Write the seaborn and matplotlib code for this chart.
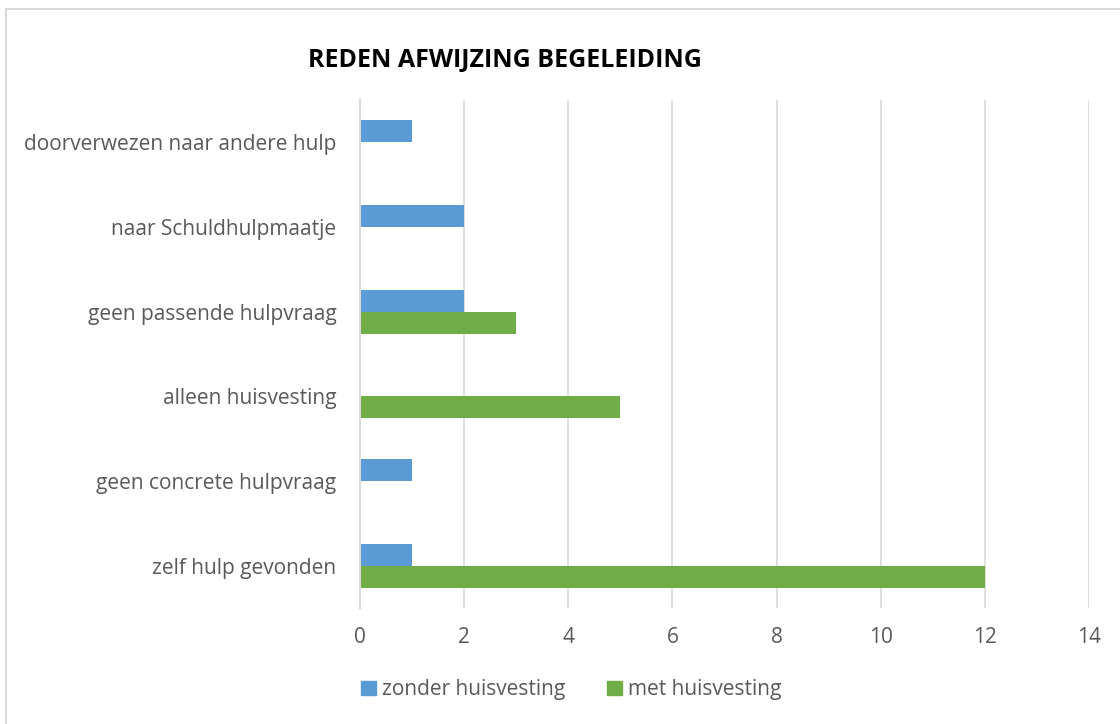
import matplotlib
matplotlib.use("Agg")
import matplotlib.pyplot as plt
import matplotlib.patches as mpatches
import seaborn as sns
import pandas as pd

categories = ["doorverwezen naar andere hulp", "naar Schuldhulpmaatje", "geen passende hulpvraag",
              "alleen huisvesting", "geen concrete hulpvraag", "zelf hulp gevonden"]
zonder = [1, 2, 2, 0, 1, 1]
met = [0, 0, 3, 5, 0, 12]
series = ["zonder huisvesting", "met huisvesting"]
colors = ["#5B9BD5", "#70AD47"]
xticks = [0, 2, 4, 6, 8, 10, 12, 14]

df = pd.DataFrame({
    "cat": categories * 2,
    "val": zonder + met,
    "serie": [series[0]] * len(categories) + [series[1]] * len(categories),
})

sns.set_style("white")
plt.rcParams['font.family'] = ['Open Sans', 'DejaVu Sans']

fig = plt.figure(figsize=(11.2, 7.24), dpi=100)
ax = fig.add_axes([0.3214, 0.1602, 0.6509, 0.7017])
sns.barplot(data=df, x="val", y="cat", hue="serie", order=categories, hue_order=series,
            palette=colors, orient="h", width=0.52, gap=0, saturation=1, linewidth=0,
            ax=ax, legend=False)

ax.set_xlim(0, 14)
ax.set_ylim(5.5, -0.5)
ax.set_xticks(xticks)
ax.set_xticklabels([str(t) for t in xticks])
ax.xaxis.grid(True, color="#d9d9d9", lw=1.2)
ax.set_axisbelow(True)
for s in ["top", "right", "bottom"]:
    ax.spines[s].set_visible(False)
ax.spines["left"].set_color("#d9d9d9")
ax.spines["left"].set_linewidth(1.5)
ax.tick_params(axis="both", length=0, labelsize=15, colors="#595959")
ax.tick_params(axis="x", pad=14)
ax.tick_params(axis="y", pad=17)
ax.set_xlabel("")
ax.set_ylabel("")

fig.text(0.451, 0.917, "REDEN AFWIJZING BEGELEIDING", ha="center", va="center",
         fontsize=18, fontweight="bold", color="#000000")

handles = [mpatches.Patch(color=c, label=l) for c, l in zip(colors, series)]
fig.legend(handles=handles, loc="center", bbox_to_anchor=(0.51, 0.047), ncol=2, frameon=False,
           fontsize=15, labelcolor="#595959", handlelength=0.7, handleheight=0.7,
           handletextpad=0.3, columnspacing=2.0)

fig.patches.append(mpatches.Rectangle((6 / 1120, -0.01), 1.02, 1 - 9 / 724 + 0.01,
                                      transform=fig.transFigure, fill=False,
                                      edgecolor="#d9d9d9", lw=1.5))

fig.savefig("out.png", dpi=100)
